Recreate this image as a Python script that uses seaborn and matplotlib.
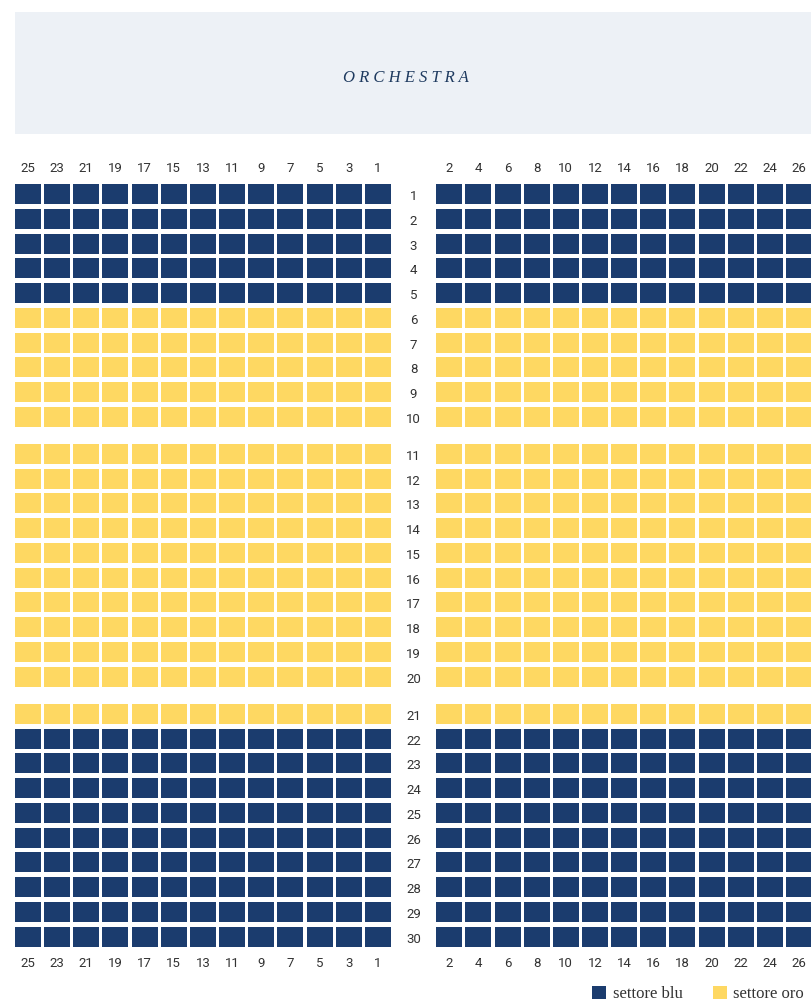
import numpy as np
import pandas as pd
import seaborn as sns
import matplotlib.pyplot as plt
from matplotlib.path import Path
from matplotlib.patches import Rectangle, Patch

# seat map data
rows = list(range(1, 31))
left_seats = [25, 23, 21, 19, 17, 15, 13, 11, 9, 7, 5, 3, 1]
right_seats = [2, 4, 6, 8, 10, 12, 14, 16, 18, 20, 22, 24, 26]
blu_rows = [1, 2, 3, 4, 5, 22, 23, 24, 25, 26, 27, 28, 29, 30]
oro_rows = [6, 7, 8, 9, 10, 11, 12, 13, 14, 15, 16, 17, 18, 19, 20, 21]
sector_names = {'blu': 'settore blu', 'oro': 'settore oro'}
colors = {'settore blu': '#1b3c6e', 'settore oro': '#fed862'}

AISLE = 2.45  # distance between seat 1 and seat 2 columns, in seat pitches


def seat_x(s):
    if s % 2 == 1:
        return (25 - s) / 2
    return 12 + AISLE + (s - 2) / 2


def row_y(r):
    # extra half-row gap after row 10 and row 20
    return (r - 1) + 0.5 * ((r > 10) + (r > 20))


records = []
for r in rows:
    sector = sector_names['blu'] if r in blu_rows else sector_names['oro']
    for s in left_seats + right_seats:
        records.append({'row': r, 'seat': s, 'x': seat_x(s), 'y': row_y(r), 'settore': sector})
seats = pd.DataFrame(records)

sns.set_theme(style='white')
plt.rcParams['font.family'] = ['Roboto', 'DejaVu Sans']

fig = plt.figure(figsize=(8.11, 10.01), dpi=100)
ax = fig.add_axes([0, 0, 1, 1])

# rectangular seat marker (26 x 20 px)
rect = Path([(-13, -10), (13, -10), (13, 10), (-13, 10), (-13, -10)],
            [Path.MOVETO, Path.LINETO, Path.LINETO, Path.LINETO, Path.CLOSEPOLY])
seat_w_pt = 26 * 72 / 100

sns.scatterplot(data=seats, x='x', y='y', hue='settore', palette=colors,
                marker=rect, s=seat_w_pt ** 2, linewidth=0, legend=False, ax=ax)

ax.set_xlim(-0.96, 26.86)
ax.set_ylim(32.6, -7.84)
ax.axis('off')

# seat numbers top and bottom
top_y = row_y(rows[0]) - 1.05
bot_y = row_y(rows[-1]) + 1.07
for s in left_seats + right_seats:
    for yy in (top_y, bot_y):
        ax.text(seat_x(s), yy, str(s), ha='center', va='center', fontsize=9.5, color='#333333')

# row numbers in the aisle
mid_x = (seat_x(1) + seat_x(2)) / 2
for r in rows:
    ax.text(mid_x, row_y(r) + 0.1, str(r), ha='center', va='center', fontsize=9.5, color='#333333')

# stage box
fig.patches.append(Rectangle((15 / 811, 1 - 134 / 1001), 1.0, 122 / 1001,
                             transform=fig.transFigure, facecolor='#edf1f6',
                             edgecolor='none', zorder=0))
fig.text(406 / 811, 1 - 78 / 1001, 'O R C H E S T R A', ha='center', va='center',
         fontsize=12, style='italic', color='#1e3a5f', family=['Liberation Serif'])

handles = [Patch(facecolor=colors[k], edgecolor='none', label=k) for k in colors]
fig.legend(handles=handles, loc='lower right', bbox_to_anchor=(1.01, -0.016), ncol=2,
           frameon=False, handlelength=0.85, handleheight=0.85, handletextpad=0.4,
           columnspacing=1.8, prop={'family': 'Liberation Serif', 'size': 12})
for t in fig.legends[0].get_texts():
    t.set_color('#333333')

fig.savefig('out.png', dpi=100)
